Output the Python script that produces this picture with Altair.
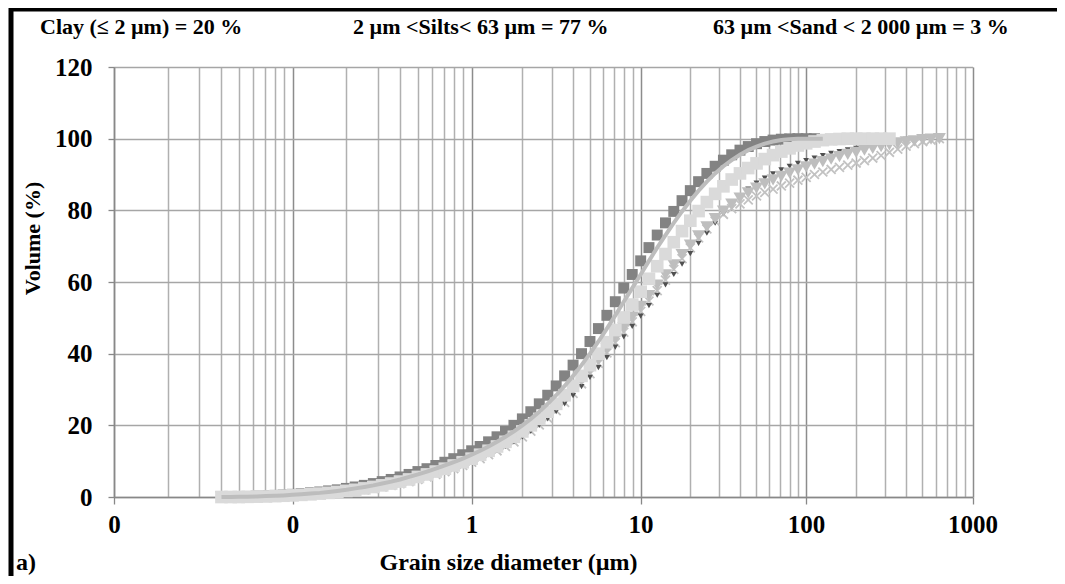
import math
import altair as alt
import pandas as pd

# Laser-diffraction size classes (µm)
classes = [0.040, 0.045, 0.050, 0.056, 0.063, 0.071, 0.080, 0.089, 0.100, 0.112,
           0.126, 0.142, 0.159, 0.178, 0.200, 0.224, 0.252, 0.283, 0.317, 0.356,
           0.399, 0.448, 0.502, 0.564, 0.632, 0.710, 0.796, 0.893, 1.002, 1.125,
           1.262, 1.416, 1.589, 1.783, 2.000, 2.244, 2.518, 2.825, 3.170, 3.557,
           3.991, 4.477, 5.024, 5.637, 6.325, 7.096, 7.962, 8.934, 10.024, 11.247,
           12.619, 14.159, 15.887, 17.825, 20.000, 22.440, 25.179, 28.251, 31.698, 35.566,
           39.905, 44.774, 50.238, 56.368, 63.246, 70.963, 79.621, 89.337, 100.237, 112.468,
           126.191, 141.589, 158.866, 178.250, 200.000, 224.404, 251.785, 282.508, 316.979, 355.656,
           399.052, 447.744, 502.377, 563.677, 632.456, 709.627]

s1 = [0, 0.05, 0.1, 0.15, 0.25, 0.35, 0.45, 0.6, 0.75, 0.95,
      1.15, 1.4, 1.7, 2.0, 2.4, 2.8, 3.25, 3.75, 4.3, 4.9,
      5.6, 6.3, 7.1, 7.9, 8.8, 9.7, 10.7, 11.8, 12.9, 14.1,
      15.4, 16.8, 18.3, 20.0, 21.8, 23.8, 26.0, 28.4, 31.0, 33.8,
      36.8, 40.0, 43.4, 47.0, 50.7, 54.5, 58.3, 62.1, 65.9, 69.6,
      73.1, 76.5, 79.7, 82.7, 85.5, 88.0, 90.3, 92.3, 94.0, 95.5,
      96.8, 97.8, 98.6, 99.2, 99.6, 99.85, 99.95, 100, 100, 100]

s2 = [0, 0, 0.05, 0.1, 0.15, 0.25, 0.35, 0.45, 0.6, 0.75,
      0.95, 1.15, 1.4, 1.7, 2.0, 2.4, 2.8, 3.25, 3.75, 4.3,
      4.9, 5.6, 6.3, 7.1, 7.9, 8.8, 9.7, 10.7, 11.8, 12.9,
      14.1, 15.4, 16.8, 18.3, 20.0, 21.8, 23.8, 26.0, 28.4, 31.0,
      33.8, 36.8, 40.0, 43.4, 47.0, 50.7, 54.5, 58.3, 62.1, 65.9,
      69.6, 73.1, 76.5, 79.7, 82.7, 85.5, 88.0, 90.3, 92.3, 94.0,
      95.5, 96.8, 97.8, 98.6, 99.2, 99.6, 99.85, 99.95, 100, 100, 100]

s3 = [0, 0, 0, 0.05, 0.1, 0.15, 0.25, 0.35, 0.45, 0.6,
      0.75, 0.95, 1.15, 1.4, 1.7, 2.0, 2.4, 2.8, 3.25, 3.75,
      4.3, 4.9, 5.6, 6.3, 7.1, 7.9, 8.8, 9.7, 10.7, 11.8,
      12.9, 14.1, 15.4, 16.8, 18.3, 20.0, 21.8, 23.8, 26.0, 28.4,
      31.0, 33.8, 36.8, 40.0, 43.2, 46.6, 50.1, 53.7, 57.3, 60.9,
      64.4, 67.8, 71.1, 74.2, 77.1, 79.8, 82.3, 84.6, 86.7, 88.6,
      90.3, 91.8, 93.1, 94.3, 95.4, 96.4, 97.3, 98.1, 98.7, 99.2,
      99.6, 99.8, 99.9, 100, 100, 100, 100, 100, 100]

s4 = [0, 0, 0, 0, 0.05, 0.1, 0.2, 0.3, 0.4, 0.55,
      0.7, 0.9, 1.1, 1.35, 1.65, 1.95, 2.3, 2.75, 3.2, 3.7,
      4.25, 4.85, 5.5, 6.2, 7.0, 7.8, 8.7, 9.6, 10.6, 11.6,
      12.7, 13.9, 15.2, 16.6, 18.1, 19.8, 21.6, 23.5, 25.6, 27.9,
      30.3, 32.9, 35.6, 38.4, 41.3, 44.2, 47.2, 50.2, 53.2, 56.2,
      59.1, 62.0, 64.8, 67.6, 70.3, 72.9, 75.4, 77.7, 79.8, 81.7,
      83.4, 84.9, 86.2, 87.4, 88.5, 89.5, 90.4, 91.3, 92.1, 92.9,
      93.6, 94.3, 95.0, 95.6, 96.2, 96.8, 97.3, 97.8, 98.3, 98.7,
      99.1, 99.4, 99.7, 99.9, 100]

s5 = [0, 0, 0, 0, 0.05, 0.1, 0.15, 0.25, 0.35, 0.45,
      0.6, 0.75, 0.95, 1.15, 1.4, 1.7, 2.0, 2.4, 2.8, 3.25,
      3.75, 4.3, 4.9, 5.6, 6.3, 7.1, 7.9, 8.8, 9.7, 10.7,
      11.8, 12.9, 14.1, 15.4, 16.8, 18.3, 20.0, 21.8, 23.8, 26.0,
      28.3, 30.8, 33.4, 36.1, 38.9, 41.8, 44.7, 47.6, 50.5, 53.4,
      56.3, 59.2, 62.1, 65.0, 67.9, 70.8, 73.6, 76.4, 79.1, 81.6,
      83.9, 85.9, 87.6, 89.0, 90.2, 91.3, 92.3, 93.1, 93.9, 94.6,
      95.3, 95.9, 96.4, 96.9, 97.3, 97.7, 98.1, 98.6, 99.1, 99.5,
      99.8, 99.95, 100, 100, 100]

s6 = [0, 0, 0, 0, 0.05, 0.1, 0.15, 0.25, 0.35, 0.45,
      0.6, 0.75, 0.95, 1.15, 1.4, 1.7, 2.0, 2.4, 2.8, 3.25,
      3.75, 4.3, 4.9, 5.6, 6.3, 7.1, 7.9, 8.8, 9.7, 10.7,
      11.8, 12.9, 14.1, 15.4, 16.8, 18.4, 20.1, 22.0, 24.1, 26.4,
      28.9, 31.6, 34.4, 37.3, 40.2, 43.1, 46.0, 48.9, 51.8, 54.7,
      57.6, 60.5, 63.5, 66.5, 69.5, 72.3, 74.8, 77.0, 78.9, 80.5,
      81.8, 82.9, 84.0, 85.0, 85.9, 86.8, 87.6, 88.4, 89.2, 90.0,
      90.7, 91.4, 92.0, 92.6, 93.2, 93.9, 94.6, 95.3, 96.2, 97.1,
      97.9, 98.6, 99.2, 99.6, 100]

series = {"S1": s1, "S2": s2, "S3": s3, "S4": s4, "S5": s5, "S6": s6}

decades = [0.01, 0.1, 1, 10, 100, 1000]
minor_mult = [1, 2, 3, 4, 5, 6, 7, 8, 9]
y_ticks = [0, 20, 40, 60, 80, 100, 120]
annotations = ["Clay (≤ 2 µm) = 20 %", "2 µm <Silts< 63 µm = 77 %", "63 µm <Sand < 2 000 µm = 3 %"]

rows = []
for name, vals in series.items():
    for c, v in zip(classes, vals):
        rows.append({"size": c, "vol": v, "series": name})
df = pd.DataFrame(rows)

# axis positions in log10 units
dec_log = [math.log10(d) for d in decades]
grid_vals = [math.log10(d * m) for d in decades[:-1] for m in minor_mult] + [dec_log[-1]]
# pixel stops of each decade in the reference's (slightly uneven) log axis
dec_px = [0, 178.5, 357.5, 526.5, 692, 858.5]

FONT = "Liberation Serif"
dec_test = "abs(datum.value - round(datum.value)) < 0.000001"

x_enc = alt.X(
    "lx:Q",
    scale=alt.Scale(type="linear", domain=dec_log, range=dec_px, nice=False, zero=False),
    axis=alt.Axis(
        values=grid_vals,
        grid=True,
        gridColor={"condition": {"test": dec_test, "value": "#8c8c8c"}, "value": "#b0b0b0"},
        gridWidth=1.5,
        labelExpr=f"({dec_test}) ? (datum.value < 0 ? '0' : format(pow(10, round(datum.value)), 'd')) : ''",
        labelFont=FONT, labelFontWeight="bold", labelFontSize=25, labelColor="black",
        labelPadding=8, labelFlush=False, labelOverlap=False,
        tickSize=7, tickWidth=1.3,
        tickColor={"condition": {"test": dec_test, "value": "#888888"}, "value": "rgba(0,0,0,0)"},
        domainColor="#888888", domainWidth=1.5,
        title="Grain size diameter (µm)",
        titleFont=FONT, titleFontWeight="bold", titleFontSize=24, titleColor="black",
        titleX=394, titleY=65, titleBaseline="middle", titleAlign="center",
    ),
)
y_enc = alt.Y(
    "vol:Q",
    scale=alt.Scale(domain=[0, 120], nice=False),
    axis=alt.Axis(
        values=y_ticks, grid=True, gridColor="#a6a6a6", gridWidth=1.5,
        labelFont=FONT, labelFontWeight="bold", labelFontSize=25, labelColor="black",
        labelPadding=16, labelFlush=False,
        tickSize=6, tickColor="#888888", tickWidth=1.3,
        domainColor="#888888", domainWidth=1.5,
        title="Volume (%)",
        titleFont=FONT, titleFontWeight="bold", titleFontSize=22, titleColor="black",
        titleX=-82, titleY=171, titleAngle=-90, titleBaseline="middle", titleAlign="center",
    ),
)

base = alt.Chart(df).transform_calculate(lx="log(datum.size)/LN10").encode(x=x_enc, y=y_enc)

l1 = base.transform_filter(alt.datum.series == "S1").mark_square(size=120, color="#838383", opacity=1)
l6 = base.transform_filter(alt.datum.series == "S6").mark_point(
    shape="M-1,-1L1,1M1,-1L-1,1", filled=False, color="#c2c2c2", strokeWidth=1.8, size=80, opacity=1)
l5 = base.transform_filter(alt.datum.series == "S5").mark_point(
    shape="triangle-down", filled=True, color="#505050", size=36, opacity=1)
l4 = base.transform_filter(alt.datum.series == "S4").mark_point(
    shape="triangle-down", filled=True, color="#bebebe", size=170, opacity=1)
l3 = base.transform_filter(alt.datum.series == "S3").mark_square(size=160, color="#dadada", opacity=1)
l2 = base.transform_filter(alt.datum.series == "S2").mark_line(color="#bdbdbd", strokeWidth=4)

ann_df = pd.DataFrame({"t": annotations, "i": [0, 1, 2]})
ann_x = [-74, 239, 599]
ann_layers = [
    alt.Chart(ann_df).transform_filter(alt.datum.i == i).mark_text(
        font=FONT, fontWeight="bold", fontSize=22, align="left", baseline="middle", color="black"
    ).encode(text="t:N", x=alt.value(ann_x[i]), y=alt.value(-40))
    for i in range(3)
]

label_a = alt.Chart(pd.DataFrame({"t": ["a)"]})).mark_text(
    font=FONT, fontWeight="bold", fontSize=24, align="left", baseline="alphabetic", color="black"
).encode(text="t:N", x=alt.value(-98), y=alt.value(503))

frame = alt.Chart(pd.DataFrame({"k": [1]})).mark_rect(
    fill="transparent", stroke="black", strokeWidth=5
).encode(x=alt.value(-103), x2=alt.value(980), y=alt.value(-58), y2=alt.value(540))

chart = alt.layer(l1, l6, l5, l4, l3, l2, *ann_layers, label_a, frame).properties(
    width=859, height=430,
    padding={"left": 106, "top": 59, "right": 84, "bottom": 79},
    autosize=alt.AutoSizeParams(type="none"),
).configure_view(strokeWidth=0).configure(background="white")

chart.save("out.html", embed_options={"renderer": "svg", "actions": False})
